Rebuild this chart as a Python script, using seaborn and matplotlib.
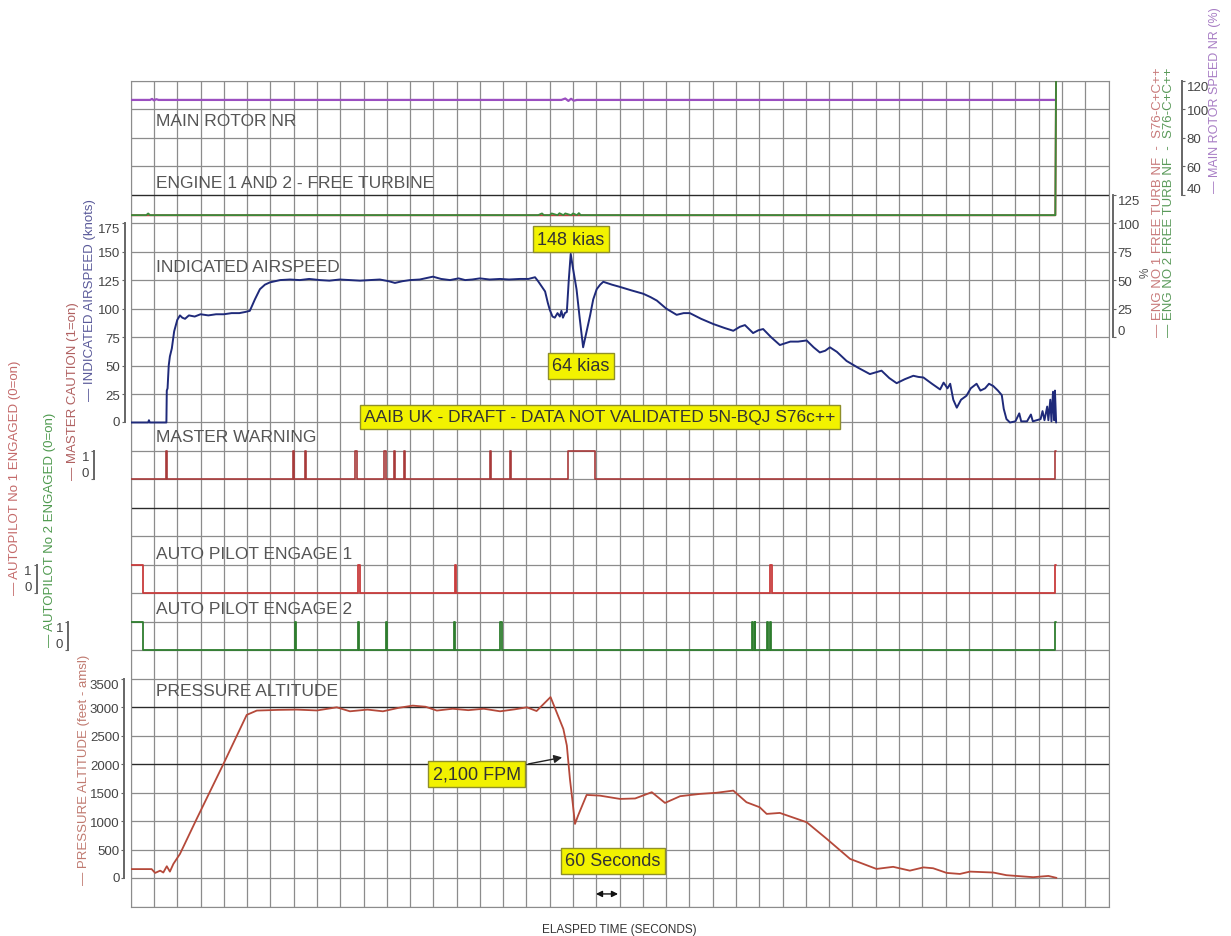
import numpy as np
import matplotlib
matplotlib.use("Agg")
import matplotlib.pyplot as plt
import seaborn as sns

# Elapsed time in seconds, one grid column = 60 s
# Indicated airspeed (knots)
ias_t = [0, 45, 47, 49, 92, 93, 95, 98, 101, 106, 112, 120, 127, 133, 140, 150, 165, 180, 200, 220,
         240, 260, 280, 295, 307, 320, 333, 346, 359, 372, 385, 410, 436, 460, 488, 512, 539, 565, 591, 615,
         642, 665, 681, 700, 720, 745, 779, 800, 823, 845, 862, 880, 900, 925, 952, 975, 1003, 1025, 1042, 1050,
         1055, 1062, 1068, 1075, 1080, 1087, 1093, 1100, 1106, 1110, 1114, 1119, 1124, 1129, 1134, 1140, 1149, 1157, 1166, 1175,
         1184, 1192, 1201, 1210, 1218, 1240, 1261, 1290, 1321, 1340, 1356, 1380, 1407, 1425, 1441, 1470, 1501, 1530, 1553, 1570,
         1583, 1604, 1618, 1630, 1650, 1673, 1700, 1720, 1742, 1760, 1776, 1790, 1802, 1820, 1845, 1875, 1905, 1920, 1935, 1955,
         1974, 1995, 2017, 2030, 2043, 2065, 2086, 2095, 2105, 2112, 2120, 2129, 2140, 2154, 2165, 2180, 2190, 2202, 2212, 2223,
         2235, 2245, 2250, 2257, 2266, 2280, 2290, 2295, 2310, 2320, 2325, 2345, 2350, 2355, 2362, 2365, 2370, 2373, 2377, 2380,
         2382, 2385]
ias_v = [0, 0, 2, 0, 0, 28, 30, 50, 58, 65, 80, 90, 94, 92, 91, 94, 93, 95, 94, 95,
         95, 96, 96, 97, 98, 108, 117, 121, 123, 124, 125, 125.5, 125, 126, 125, 124.5, 125.5, 125, 124.5, 125,
         125.5, 124, 122.5, 124, 125, 125.5, 128, 126, 125, 126.5, 125, 125.5, 126.5, 125.5, 126, 125.5, 126, 126, 127.5, 124,
         121.5, 118, 115, 105, 99, 93, 92, 96, 93, 98, 92, 96, 97, 125, 148, 135, 117, 92, 66, 80,
         94, 108, 117, 121, 123.5, 121, 119, 116, 113, 110, 107, 100, 94.5, 96, 96, 91, 86.5, 83, 80.5, 84,
         85.5, 78.5, 81, 82, 75, 68, 71, 71, 72, 66, 61.5, 63, 66, 62, 54, 48, 42.5, 44, 45.5, 39,
         34.5, 38, 41, 40, 39.5, 34, 29, 35, 30, 34, 20, 13, 20, 23.5, 30, 34, 28, 30, 34, 32,
         28, 24, 12, 3, 0, 1, 8, 1, 1, 7, 1, 3, 10, 2, 14, 2, 20, 1, 27, 2,
         28, 0]

# Pressure altitude (feet amsl)
alt_t = [0, 54, 63, 76, 84, 93, 101, 110, 127, 170, 239, 299, 325, 380, 428, 480, 531, 565, 610, 650,
         690, 727, 760, 789, 830, 870, 910, 952, 990, 1021, 1046, 1082, 1115, 1124, 1132, 1139, 1145, 1153, 1175, 1209,
         1261, 1300, 1343, 1377, 1416, 1467, 1510, 1553, 1587, 1621, 1639, 1673, 1742, 1794, 1854, 1922, 1965, 2008, 2043, 2068,
         2103, 2137, 2163, 2223, 2257, 2326, 2365, 2386]
alt_v = [160, 160, 93, 133, 100, 210, 116, 251, 427, 1041, 2006, 2867, 2943, 2955, 2960, 2945, 3000, 2930, 2960, 2930,
         2990, 3030, 3010, 2943, 2975, 2950, 2975, 2930, 2965, 3000, 2935, 3180, 2620, 2330, 1740, 1330, 953, 1100, 1462, 1450,
         1392, 1400, 1510, 1322, 1440, 1480, 1500, 1538, 1334, 1246, 1129, 1146, 983, 690, 339, 163, 200, 133, 190, 175,
         93, 75, 116, 100, 53, 18, 40, 6]

# Master warning / caution (1 = on), step values
mw_t = [0, 90, 93, 418, 421, 449, 452, 579, 582, 654, 657, 678, 681, 704, 707, 926, 929, 977, 980, 1127, 1197, 2383, 2385]
mw_v = [0, 1, 0, 1, 0, 1, 0, 1, 0, 1, 0, 1, 0, 1, 0, 1, 0, 1, 0, 1, 0, 1, 1]

# Autopilot engaged (0 = on), step values
ap1_t = [0, 31, 587, 590, 835, 838, 1647, 1654, 2383, 2385]
ap1_v = [1, 0, 1, 0, 1, 0, 1, 0, 1, 1]
ap2_t = [0, 31, 424, 427, 586, 589, 657, 660, 833, 836, 953, 956, 1602, 1604, 1608, 1610, 1640, 1643, 1648, 1651, 2383, 2385]
ap2_v = [1, 0, 1, 0, 1, 0, 1, 0, 1, 0, 1, 0, 1, 0, 1, 0, 1, 0, 1, 0, 1, 1]

# Main rotor NR (%)
rot_t = [0, 50, 55, 60, 66, 72, 1110, 1120, 1128, 1135, 1142, 1150, 2384]
rot_v = [106.5, 106.5, 107.2, 106.2, 107, 106.5, 106.5, 107.5, 105.8, 107.3, 106, 106.5, 106.5]

# Engine free turbine NF (%)
eng1_t = [0, 2383, 2385]
eng1_v = [106.9, 106.9, 240]
eng2_t = [0, 40, 45, 50, 1050, 1060, 1065, 1080, 1085, 1100, 1105, 1115, 1120, 1135, 1140, 1150, 1155, 1160, 2383, 2385]
eng2_v = [107, 107, 108.5, 107, 107, 108.5, 107, 107, 108.5, 107, 108.7, 107, 108.5, 107, 108.5, 107, 108.8, 107, 107, 240]

sns.set_style("white")
plt.rcParams["font.family"] = ["Liberation Sans", "DejaVu Sans"]

W, H = 1231, 937
fig = plt.figure(figsize=(W / 100, H / 100), dpi=100)
rect = [130.7 / W, 1 - 907.7 / H, (1108.5 - 130.7) / W, (907.7 - 81.7) / H]
NROWS = 29

# background grid
base = fig.add_axes(rect)
base.set_xlim(0, 2520)
base.set_ylim(NROWS, 0)
base.set_xticks(np.arange(0, 2521, 60))
base.set_yticks(np.arange(0, NROWS + 1))
base.grid(True, color="#8c8c8c", lw=0.9)
base.tick_params(length=0, labelbottom=False, labelleft=False)
for s in base.spines.values():
    s.set_color("#8c8c8c")
for r in [4, 15, 22, 24]:
    base.axhline(r, color="#2a2a2a", lw=0.9)
base.set_xlabel("ELASPED TIME (SECONDS)", fontsize=8.5, color="#333333", labelpad=12)


def panel(v0, row0, per_row):
    ax = fig.add_axes(rect, sharex=base)
    ax.set_ylim(v0 - (NROWS - row0) * per_row, v0 + row0 * per_row)
    ax.patch.set_alpha(0)
    for s in ax.spines.values():
        s.set_visible(False)
    ax.tick_params(bottom=False, labelbottom=False, left=False, labelleft=False)
    return ax


def scale(ax, side, offset_px, ticks, labels, top_va="top", bottom_va="center"):
    sp = ax.spines[side]
    sp.set_visible(True)
    sp.set_position(("outward", offset_px * 0.72))
    sp.set_bounds(ticks[0], ticks[-1])
    sp.set_linestyle((0, (1, 1)))
    sp.set_color("#666666")
    sp.set_linewidth(1.4)
    ax.yaxis.set_ticks_position(side)
    ax.set_yticks(ticks, labels)
    ax.tick_params(axis="y", length=2, width=0.8, color="#666666", labelsize=9.5,
                   labelcolor="#444444", pad=1.5,
                   left=(side == "left"), labelleft=(side == "left"),
                   right=(side == "right"), labelright=(side == "right"))
    tl = ax.get_yticklabels()
    tl[-1].set_va(top_va)
    tl[0].set_va(bottom_va)


ax_rot = panel(40, 4, 20)
ax_eng = panel(0, 9, 25)
ax_ias = panel(0, 12, 25)
ax_mw = panel(0, 14, 1)
ax_ap1 = panel(0, 18, 1)
ax_ap2 = panel(0, 20, 1)
ax_alt = panel(0, 28, 500)

scale(ax_rot, "right", 73.5, [40, 60, 80, 100, 120], ["40", "60", "80", "100", "120"], bottom_va="bottom")
scale(ax_eng, "right", 4.2, [0, 25, 50, 75, 100, 125], ["0", "25", "50", "75", "100", "125"], bottom_va="bottom")
scale(ax_ias, "left", 5.7, [0, 25, 50, 75, 100, 125, 150, 175],
      ["0", "25", "50", "75", "100", "125", "150", "175"])
scale(ax_mw, "left", 36.7, [0, 1], ["0", "1"], bottom_va="bottom")
scale(ax_ap1, "left", 94, [0, 1], ["0", "1"], bottom_va="bottom")
scale(ax_ap2, "left", 62.7, [0, 1], ["0", "1"], bottom_va="bottom")
scale(ax_alt, "left", 6.4, [0, 500, 1000, 1500, 2000, 2500, 3000, 3500],
      ["0", "500", "1000", "1500", "2000", "2500", "3000", "3500"])

c_ias = "#1f2a7a"
c_alt = "#b5493a"
c_mw = "#a83a3a"
c_ap1 = "#c83c3c"
c_ap2 = "#2e7d2e"
c_rot = "#9b4fc0"
c_eng1 = "#c04040"
c_eng2 = "#3a8a3a"

sns.lineplot(x=rot_t, y=rot_v, ax=ax_rot, color=c_rot, lw=1.6, estimator=None, sort=False)
sns.lineplot(x=eng1_t, y=eng1_v, ax=ax_eng, color=c_eng1, lw=1.4, estimator=None, sort=False)
sns.lineplot(x=eng2_t, y=eng2_v, ax=ax_eng, color=c_eng2, lw=1.3, estimator=None, sort=False)
sns.lineplot(x=ias_t, y=ias_v, ax=ax_ias, color=c_ias, lw=1.4, estimator=None, sort=False)
sns.lineplot(x=mw_t, y=mw_v, ax=ax_mw, color=c_mw, lw=1.2, drawstyle="steps-post", estimator=None, sort=False)
sns.lineplot(x=ap1_t, y=ap1_v, ax=ax_ap1, color=c_ap1, lw=1.3, drawstyle="steps-post", estimator=None, sort=False)
sns.lineplot(x=ap2_t, y=ap2_v, ax=ax_ap2, color=c_ap2, lw=1.3, drawstyle="steps-post", estimator=None, sort=False)
sns.lineplot(x=alt_t, y=alt_v, ax=ax_alt, color=c_alt, lw=1.3, estimator=None, sort=False)
for a in [ax_rot, ax_eng, ax_ias, ax_mw, ax_ap1, ax_ap2, ax_alt]:
    a.set_xlabel("")
    a.set_ylabel("")
base.set_xlim(0, 2520)

# panel titles
title_kw = dict(fontsize=12.5, color="#555555", ha="left", va="center")
for txt, ypx in [("MAIN ROTOR NR", 122), ("ENGINE 1 AND 2 - FREE TURBINE", 184),
                 ("INDICATED AIRSPEED", 268), ("MASTER WARNING", 438),
                 ("AUTO PILOT ENGAGE 1", 555), ("AUTO PILOT ENGAGE 2", 610),
                 ("PRESSURE ALTITUDE", 692)]:
    fig.text(156 / W, 1 - ypx / H, txt, **title_kw)

# rotated axis labels
lab_kw = dict(rotation=90, ha="center", va="center", fontsize=9.5)
for txt, xpx, ypx, col in [
        ("— AUTOPILOT No 1 ENGAGED (0=on)", 15, 478, "#c46a6a"),
        ("— AUTOPILOT No 2 ENGAGED (0=on)", 50, 530, "#4f9a4f"),
        ("— MASTER CAUTION (1=on)", 73, 391, "#b06060"),
        ("— INDICATED AIRSPEED (knots)", 90, 300, "#5a5a9a"),
        ("— PRESSURE ALTITUDE (feet - amsl)", 84, 770, "#c07a70"),
        ("— ENG NO 1 FREE TURB NF  -  S76-C+C++", 1158, 202, "#c87a7a"),
        ("— ENG NO 2 FREE TURB NF  -  S76-C+C++", 1169, 202, "#5a9a5a")]:
    fig.text(xpx / W, 1 - ypx / H, txt, color=col, **lab_kw)
fig.text(1215 / W, 1 - 100 / H, "— MAIN ROTOR SPEED NR (%)", color="#a77cc4",
         rotation=90, ha="center", va="center", fontsize=9)
fig.text(1146 / W, 1 - 273 / H, "%", rotation=90, ha="center", va="center", fontsize=8.5, color="#555555")

# yellow annotation boxes
box = dict(boxstyle="square,pad=0.25", fc="#f2f200", ec="#8f8f2a", lw=1)
note_kw = dict(fontsize=13, color="#333333", ha="center", va="center", bbox=box)
ax_ias.text(1135, 161, "148 kias", **note_kw)
ax_ias.text(1161, 50, "64 kias", **note_kw)
ax_ias.text(1209, 5, "AAIB UK - DRAFT - DATA NOT VALIDATED 5N-BQJ S76c++", fontsize=12.5,
            color="#333333", ha="center", va="center", bbox=box)
ax_alt.annotate("2,100 FPM", xy=(1119, 2130), xytext=(892, 1831), **note_kw,
                arrowprops=dict(arrowstyle="-|>", color="#222222", lw=1, mutation_scale=12))
ax_alt.text(1243, 305, "60 Seconds", **note_kw)
ax_alt.annotate("", xy=(1256, -276), xytext=(1199, -276),
                arrowprops=dict(arrowstyle="<|-|>", color="#111111", lw=1, mutation_scale=9,
                                shrinkA=0, shrinkB=0))

fig.savefig("out.png", dpi=100)
